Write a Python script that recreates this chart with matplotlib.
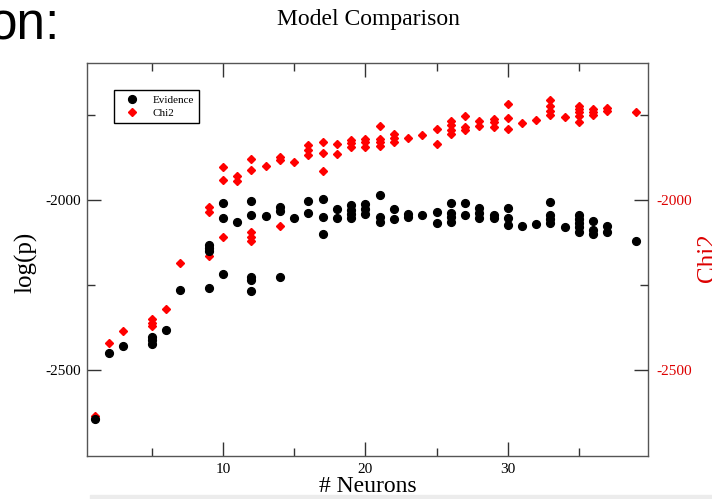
import matplotlib
matplotlib.use("Agg")
import matplotlib.pyplot as plt
from matplotlib.patches import Rectangle
from matplotlib.lines import Line2D

# Evidence (black circles): neuron count and log(p)
evidence_x = [1, 2, 3, 5, 5, 5, 6, 7, 9, 9, 9, 9, 10, 10, 10, 11,
              12, 12, 12, 12, 12, 13, 14, 14, 14, 15, 16, 16, 17, 17, 17,
              18, 18, 19, 19, 19, 19, 20, 20, 20, 21, 21, 21, 22, 22,
              23, 23, 24, 25, 25, 26, 26, 26, 26, 27, 27, 28, 28, 28,
              29, 29, 30, 30, 30, 31, 32, 33, 33, 33, 33, 34,
              35, 35, 35, 35, 35, 36, 36, 36, 37, 37, 39]
evidence_y = [-2644, -2450, -2428, -2402, -2412, -2423, -2382, -2265,
              -2132, -2142, -2150, -2258, -2008, -2052, -2218, -2066,
              -2002, -2045, -2225, -2235, -2267, -2047, -2022, -2034, -2225,
              -2054, -2002, -2037, -1998, -2049, -2101,
              -2027, -2054, -2015, -2029, -2041, -2054, -2013, -2027, -2042,
              -1985, -2050, -2064, -2026, -2057, -2042, -2050, -2045,
              -2036, -2067, -2010, -2037, -2051, -2064, -2008, -2044,
              -2025, -2039, -2054, -2044, -2052, -2025, -2054, -2075,
              -2076, -2071, -2007, -2044, -2056, -2068, -2081,
              -2044, -2057, -2069, -2081, -2093, -2062, -2088, -2101,
              -2076, -2093, -2121]

# Chi2 (red diamonds)
chi2_x = [1, 2, 3, 5, 5, 5, 6, 7, 9, 9, 9, 10, 10, 10, 11, 11,
          12, 12, 12, 12, 12, 13, 14, 14, 14, 15, 16, 16, 16, 17, 17, 17,
          18, 18, 19, 19, 19, 20, 20, 20, 21, 21, 21, 21, 22, 22, 22,
          23, 24, 25, 25, 26, 26, 26, 26, 27, 27, 27, 28, 28,
          29, 29, 29, 30, 30, 30, 31, 32, 33, 33, 33, 33, 34,
          35, 35, 35, 35, 35, 36, 36, 36, 37, 37, 39]
chi2_y = [-2634, -2419, -2385, -2350, -2360, -2369, -2321, -2184,
          -2020, -2036, -2165, -1902, -1943, -2108, -1931, -1944,
          -1880, -1912, -2094, -2108, -2122, -1899, -1874, -1882, -2077,
          -1889, -1840, -1854, -1869, -1830, -1863, -1916,
          -1835, -1865, -1824, -1833, -1845, -1821, -1831, -1845,
          -1782, -1822, -1831, -1843, -1807, -1817, -1830,
          -1817, -1809, -1792, -1835, -1767, -1781, -1794, -1807,
          -1753, -1786, -1794, -1767, -1784, -1763, -1770, -1786,
          -1719, -1759, -1792, -1774, -1765, -1708, -1725, -1738, -1750,
          -1757, -1724, -1733, -1743, -1755, -1770, -1733, -1743, -1752,
          -1729, -1740, -1742]

x_major = [10, 20, 30]
x_minor = [5, 15, 25, 35]
y_major = [-2500, -2000]
y_minor = [-2250, -1750]

plt.rcParams["font.family"] = "Liberation Serif"
plt.rcParams["axes.unicode_minus"] = False

fig = plt.figure(figsize=(7.12, 4.99), dpi=100)
W, H = 712.0, 499.0
ax = fig.add_axes([87 / W, 43 / H, 561 / W, 393 / H])

# red first so black sits on top, both on same scale
ax.plot(chi2_x, chi2_y, linestyle="none", marker="D", ms=3.7,
        color="red", mec="red")
ax.plot(evidence_x, evidence_y, linestyle="none", marker="o", ms=5.6,
        color="black", mec="black")

ax.set_xlim(0.45, 39.85)
ax.set_ylim(-2752, -1598)
ax.set_xticks(x_major)
ax.set_xticks(x_minor, minor=True)
ax.set_yticks(y_major)
ax.set_yticks(y_minor, minor=True)
ax.tick_params(which="both", direction="in", top=True, right=False,
               width=1, color="#333333", labelsize=11, pad=4)
ax.tick_params(axis="x", pad=5)
ax.tick_params(which="major", length=10)
ax.tick_params(which="minor", length=6)
for s in ax.spines.values():
    s.set_color("#555555")
    s.set_linewidth(1)

ax2 = ax.twinx()
ax2.set_ylim(ax.get_ylim())
ax2.set_yticks(y_major)
ax2.set_yticks(y_minor, minor=True)
ax2.tick_params(which="both", direction="in", width=1, color="#333333",
                labelsize=11, labelcolor="#dd0000", pad=6)
ax2.tick_params(which="major", length=10)
ax2.tick_params(which="minor", length=6)
for s in ax2.spines.values():
    s.set_visible(False)

handles = [Line2D([], [], linestyle="none", marker="o", ms=5.6, color="black"),
           Line2D([], [], linestyle="none", marker="D", ms=3.7, color="red")]
leg = ax.legend(handles, ["Evidence", "Chi2"], loc="upper left",
                bbox_to_anchor=(27 / 561, 366 / 393), borderaxespad=0,
                fontsize=8, frameon=True, fancybox=False, framealpha=1,
                edgecolor="black", borderpad=0.45, handlelength=2.4,
                handletextpad=0.6, labelspacing=0.3)
leg.get_frame().set_linewidth(1)

fig.text(368 / W, 1 - 20 / H, "Model Comparison", ha="center", va="center",
         fontsize=17)
fig.text(368 / W, 1 - 486 / H, "# Neurons", ha="center", va="center",
         fontsize=17)
fig.text(26 / W, 1 - 262 / H, "log(p)", ha="center", va="center",
         rotation=90, fontsize=18)
fig.text(697 / W, 1 - 258 / H, "Chi2", ha="left", va="center",
         rotation=90, fontsize=18, color="#dd0000")

# cropped slide text at the top left
fig.text(-11 / W, 1 - 39 / H, "on:", ha="left", va="baseline",
         fontsize=37, family="Liberation Sans")

fig.patches.append(Rectangle((90 / W, 0), 1, 4 / H, transform=fig.transFigure,
                             color="#ececec", zorder=-1))

fig.savefig("out.png", dpi=100)
